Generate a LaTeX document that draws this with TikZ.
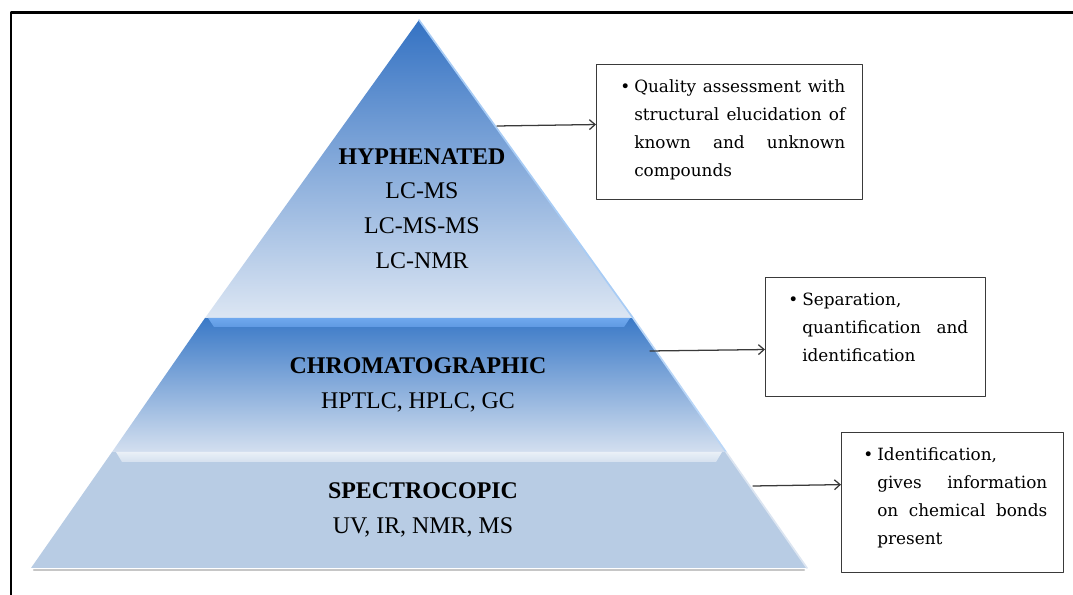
\documentclass[tikz,border=0pt]{standalone}
\usepackage{fontspec}
\setmainfont{Liberation Serif}
\newfontfamily\boxfont{DejaVu Serif}
\usetikzlibrary{arrows.meta, calc}

\definecolor{topdark}{HTML}{3472C3}
\definecolor{topmid}{HTML}{6393D0}
\definecolor{toplight}{HTML}{DCE6F3}
\definecolor{middark}{HTML}{3A79C7}
\definecolor{midmid}{HTML}{5F90CF}
\definecolor{midlight}{HTML}{D3DFEF}
\definecolor{basefill}{HTML}{B8CCE4}
\definecolor{edgelight}{HTML}{A8CCF5}
\definecolor{bevelblue}{HTML}{6FA8EE}
\definecolor{boxline}{HTML}{3A3A3A}

\tikzset{
  tiertext/.style={align=center, font=\fontsize{17}{24.8}\selectfont},
  infobox/.style={draw=boxline, line width=0.9pt, anchor=north west, inner sep=0pt},
  infotext/.style={anchor=north west, inner sep=0pt, align=justify,
    font=\boxfont\fontsize{12}{19.8}\selectfont\sloppy},
}

\begin{document}
\begin{tikzpicture}[line cap=round,line join=round,>={Straight Barb[length=4pt,width=7pt]},x=1.0cm,y=1.0cm]
\useasboundingbox (0,0) rectangle (26.825,14.875);

% frame
\draw[line width=1.6pt, line cap=butt] (0.275,0) -- (0.275,14.5625) -- (26.825,14.5625);

\coordinate (P) at (10.475,14.375);
\coordinate (L1) at (5.125,6.925);
\coordinate (R1) at (15.825,6.925);
\coordinate (L2) at (2.8,3.575);
\coordinate (R2) at (18.15,3.575);
\coordinate (L3) at (0.775,0.675);
\coordinate (R3) at (20.175,0.675);

% shadow under the base
\draw[gray!45, line width=1.6pt] (0.85,0.62) -- (20.1,0.62);

\fill[basefill] (L2) -- (R2) -- (R3) -- (L3) -- cycle;
\shade[top color=middark, middle color=midmid, bottom color=midlight] (L1) -- (R1) -- (R2) -- (L2) -- cycle;
\shade[top color=topdark, middle color=topmid, bottom color=toplight] (P) -- (R1) -- (L1) -- cycle;

% bevels
\shade[top color=bevelblue, middle color=white!45!bevelblue, bottom color=bevelblue!70!middark] (5.2,6.925) -- (15.75,6.925) -- (15.6,6.7) -- (5.35,6.7) -- cycle;
\shade[top color=white!70!basefill, middle color=white, bottom color=white!40!basefill] (2.9,3.575) -- (18.05,3.575) -- (17.9,3.325) -- (3.05,3.325) -- cycle;

\draw[edgelight, line width=1.2pt] (P) -- (R1);
\draw[edgelight!80!white, line width=1.2pt] (R1) -- (R2);
\draw[white!50!basefill, line width=1.2pt] (R2) -- (R3);
%\draw[edgelight, line width=0.6pt] (P) -- (L1);

\node[tiertext] (hyph) at (10.55,9.66) {\textbf{HYPHENATED}\\LC-MS\\LC-MS-MS\\LC-NMR};
\node[tiertext] (chrom) at (10.45,5.26) {\textbf{CHROMATOGRAPHIC}\\HPTLC, HPLC, GC};
\node[tiertext] (spec) at (10.575,2.125) {\textbf{SPECTROCOPIC}\\UV, IR, NMR, MS};

\node[infobox, minimum width=6.65cm, minimum height=3.375cm] (qbox) at (14.9,13.275) {};
\node[infobox, minimum width=5.5cm, minimum height=2.975cm] (sbox) at (19.125,7.95) {};
\node[infobox, minimum width=5.55cm, minimum height=3.5cm] (ibox) at (21.025,4.075) {};

\node[infotext, text width=5.275cm] (qtext) at ([xshift=0.95cm,yshift=-0.39cm]qbox.north west)
  {\llap{\textbullet\hspace{0.1cm}}Quality assessment with\linebreak structural elucidation of\linebreak known and unknown\linebreak compounds};
\node[infotext, text width=4.15cm] (stext) at ([xshift=0.925cm,yshift=-0.39cm]sbox.north west)
  {\llap{\textbullet\hspace{0.1cm}}Separation,\linebreak quantification and\linebreak identification};
\node[infotext, text width=4.25cm] (itext) at ([xshift=0.9cm,yshift=-0.39cm]ibox.north west)
  {\llap{\textbullet\hspace{0.1cm}}Identification,\linebreak gives information\linebreak on chemical bonds\linebreak present};

\coordinate (h1) at (12.425,11.725);
\coordinate (h2) at (16.25,6.1);
\coordinate (h3) at (18.825,2.725);

\draw[->, boxline, line width=0.9pt] (h1) -- ([yshift=0.19cm]qbox.west);
\draw[->, boxline, line width=0.9pt] (h2) -- ([yshift=-0.31cm]sbox.west);
\draw[->, boxline, line width=0.9pt] (h3) -- ([yshift=0.45cm]ibox.west);

\end{tikzpicture}
\end{document}
